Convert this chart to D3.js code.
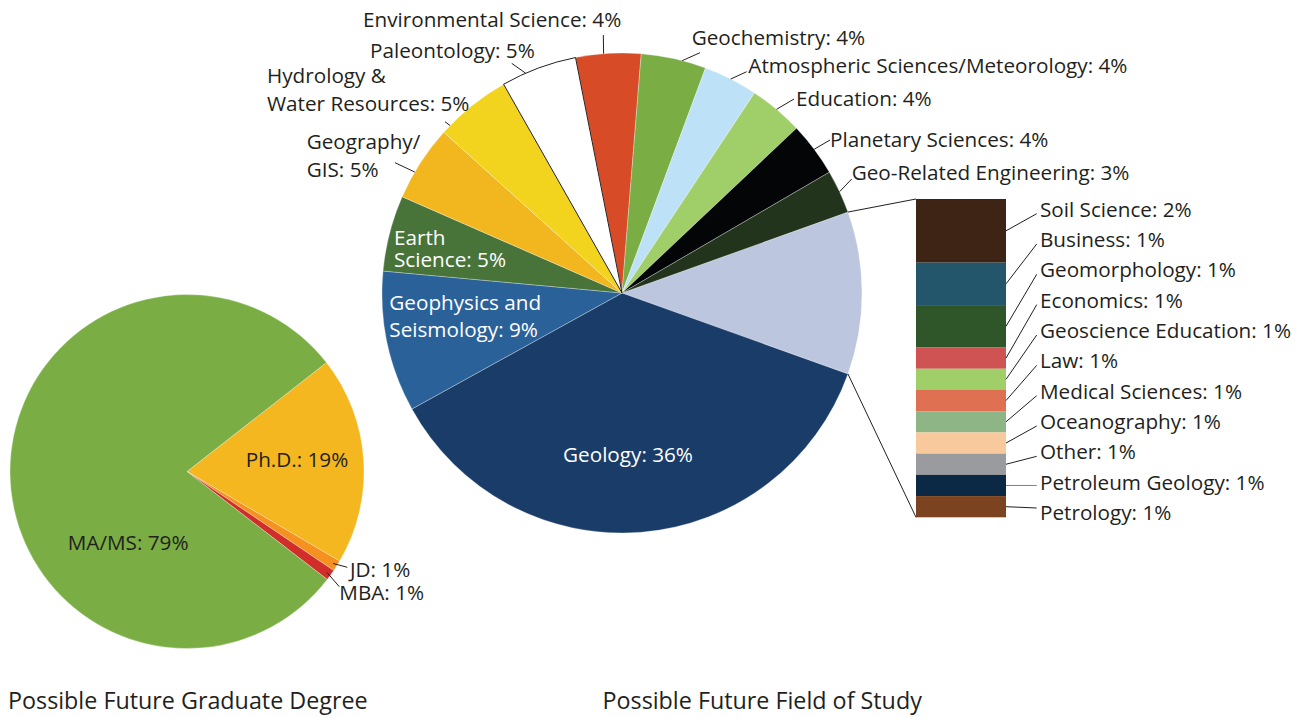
<!DOCTYPE html>
<html>
<head>
<meta charset="utf-8">
<script src="https://cdn.jsdelivr.net/npm/d3@7"></script>
<style>
  html, body { margin: 0; padding: 0; background: #fff; }
  svg { display: block; }
  text { font-family: "Open Sans", sans-serif; }
</style>
</head>
<body>
<svg id="chart" width="1311" height="717"></svg>
<script>
// ---------- data ----------
const chartTitles = ["Possible Future Graduate Degree", "Possible Future Field of Study"];

const degreeCategories = ["Ph.D.", "JD", "MBA", "MA/MS"];
const degreeShares = [19, 1, 1, 79];

// respondents per field; the small fields are grouped into the broken-out bar
const fieldCategories = [
  "Geology", "Geophysics and Seismology", "Earth Science", "Geography/GIS",
  "Hydrology & Water Resources", "Paleontology", "Environmental Science",
  "Geochemistry", "Atmospheric Sciences/Meteorology", "Education",
  "Planetary Sciences", "Geo-Related Engineering"
];
const fieldCounts = [50, 13, 7, 7, 7, 7, 6, 6, 5, 5, 5, 4];

const minorCategories = [
  "Soil Science", "Business", "Geomorphology", "Economics", "Geoscience Education",
  "Law", "Medical Sciences", "Oceanography", "Other", "Petroleum Geology", "Petrology"
];
const minorCounts = [3, 2, 2, 1, 1, 1, 1, 1, 1, 1, 1];

// ---------- styles ----------
const INK = "#231f20";
const LABEL_PX = 20.7;
const TITLE_PX = 23.3;

const degreeColors = ["#f4b71f", "#f5921f", "#d12e2a", "#7aad44"];
const groupedColor = "#bcc6de";
const fieldColors = [
  "#1a3c68", "#2b6199", "#48743a", "#f2b61f", "#f2d31e", "#ffffff",
  "#d84b27", "#7aad44", "#bde1f6", "#a0cf6a", "#040506", "#22341c"
];
const minorColors = [
  "#3e2415", "#23566b", "#2e5628", "#d05353", "#a0cf6a", "#e07052",
  "#8eb585", "#f7c99c", "#9a9b9f", "#0b2845", "#7b431f"
];

// ---------- layout ----------
const degreePie = { cx: 187, cy: 471.5, r: 177, start: 52 * Math.PI / 180 };
const fieldPie = { cx: 622, cy: 293, r: 240 };
const bar = { x: 916, width: 90, top: 199, bottom: 517.3 };

const degreeLabelLayout = {
  "Ph.D.": { x: 245.7, y: [467.3] },
  "MA/MS": { x: 67.7, y: [550] },
  "JD": { x: 350, y: [576.7], lead: [347.3, 567.3] },
  "MBA": { x: 339.3, y: [600], lead: [339.3, 586.7] }
};

const fieldLabelLayout = {
  "Geology": { x: 628, y: [461.7], anchor: "middle", fill: "#fff" },
  "Geophysics and Seismology": { x: 389.3, y: [310, 336.7], split: "Geophysics and", fill: "#fff" },
  "Earth Science": { x: 394, y: [245, 266.7], split: "Earth", fill: "#fff" },
  "Geography/GIS": { x: 306.7, y: [149, 177], split: "Geography/", lead: [395, 162.7], at: 0.36 },
  "Hydrology & Water Resources": { x: 267, y: [83, 111], split: "Hydrology &", lead: [445, 121.7], at: 0.12 },
  "Paleontology": { x: 370, y: [58], lead: [511.7, 63.3], at: 0.32 },
  "Environmental Science": { x: 363, y: [27], lead: [603.3, 35], at: 0.43 },
  "Geochemistry": { x: 691.7, y: [45], lead: [700, 52.7], at: 0.63 },
  "Atmospheric Sciences/Meteorology": { x: 748.3, y: [72.7], lead: [746.7, 71.7] },
  "Education": { x: 796, y: [106], lead: [794, 99] },
  "Planetary Sciences": { x: 830, y: [146.7], lead: [830, 140] },
  "Geo-Related Engineering": { x: 851.7, y: [180], lead: [851.7, 179] }
};

const minorLabel = { x: 1040, firstBaseline: 216.7, step: 30.33 };

// ---------- helpers ----------
const svg = d3.select("#chart");

function pointAt(pie, angle, radius) {
  return [pie.cx + radius * Math.sin(angle), pie.cy - radius * Math.cos(angle)];
}

function drawLabel(g, text, spec) {
  let lines = [text];
  if (spec.split) lines = [spec.split, text.slice(spec.split.length).trim()];
  const t = g.append("text")
    .attr("font-size", LABEL_PX)
    .attr("fill", spec.fill || INK)
    .attr("text-anchor", spec.anchor || "start");
  lines.forEach((line, i) => {
    t.append("tspan").attr("x", spec.x).attr("y", spec.y[i]).text(line);
  });
}

function leader(g, from, to, color) {
  g.append("line")
    .attr("x1", from[0]).attr("y1", from[1])
    .attr("x2", to[0]).attr("y2", to[1])
    .attr("stroke", color || INK)
    .attr("stroke-width", 1);
}

// ---------- graduate degree pie ----------
{
  const data = degreeCategories.map((name, i) => ({ name, value: degreeShares[i], color: degreeColors[i] }));
  const pie = d3.pie().sort(null).value(d => d.value)
    .startAngle(degreePie.start).endAngle(degreePie.start + 2 * Math.PI);
  const arcs = pie(data);
  const arc = d3.arc().innerRadius(0).outerRadius(degreePie.r);
  const g = svg.append("g");
  g.append("g").attr("transform", `translate(${degreePie.cx},${degreePie.cy})`)
    .selectAll("path").data(arcs).join("path")
    .attr("d", arc)
    .attr("fill", d => d.data.color)
    .attr("stroke", "#fff").attr("stroke-width", 0.3);

  const total = d3.sum(degreeShares);
  arcs.forEach(a => {
    const spec = degreeLabelLayout[a.data.name];
    const pct = Math.round(100 * a.data.value / total);
    drawLabel(g, `${a.data.name}: ${pct}%`, spec);
    if (spec.lead) {
      const mid = (a.startAngle + a.endAngle) / 2;
      leader(g, spec.lead, pointAt(degreePie, mid, degreePie.r * 0.975));
    }
  });
}

// ---------- field of study pie ----------
const groupedTotal = d3.sum(minorCounts);
const fieldTotal = d3.sum(fieldCounts) + groupedTotal;
{
  const data = [{ name: null, value: groupedTotal, color: groupedColor }]
    .concat(fieldCategories.map((name, i) => ({ name, value: fieldCounts[i], color: fieldColors[i] })));
  const groupedAngle = 2 * Math.PI * groupedTotal / fieldTotal;
  const start = Math.PI / 2 - groupedAngle / 2;
  const pie = d3.pie().sort(null).value(d => d.value)
    .startAngle(start).endAngle(start + 2 * Math.PI);
  const arcs = pie(data);
  const arc = d3.arc().innerRadius(0).outerRadius(fieldPie.r);
  const g = svg.append("g");
  const slices = g.append("g").attr("transform", `translate(${fieldPie.cx},${fieldPie.cy})`);
  slices.selectAll("path").data(arcs).join("path")
    .attr("d", arc)
    .attr("fill", d => d.data.color)
    .attr("stroke", d => d.data.color === "#ffffff" ? INK : "#fff")
    .attr("stroke-width", d => d.data.color === "#ffffff" ? 1 : 0.3);
  // keep the outlined white slice on top so its border is not covered
  slices.selectAll("path").filter(d => d.data.color === "#ffffff").raise();

  arcs.forEach(a => {
    if (!a.data.name) return;
    const spec = fieldLabelLayout[a.data.name];
    const pct = Math.round(100 * a.data.value / fieldTotal);
    drawLabel(g, `${a.data.name}: ${pct}%`, spec);
    if (spec.lead) {
      const f = spec.at === undefined ? 0.5 : spec.at;
      const ang = a.startAngle + f * (a.endAngle - a.startAngle);
      leader(g, spec.lead, pointAt(fieldPie, ang, fieldPie.r));
    }
  });

  // ---------- broken-out bar of the small fields ----------
  const grouped = arcs[0];
  const y = d3.scaleLinear().domain([0, groupedTotal]).range([bar.top, bar.bottom]);
  const ends = d3.cumsum(minorCounts);
  const segs = minorCategories.map((name, i) => ({
    name, value: minorCounts[i], color: minorColors[i],
    y0: y(ends[i] - minorCounts[i]), y1: y(ends[i])
  }));

  leader(g, pointAt(fieldPie, grouped.startAngle, fieldPie.r), [bar.x, y(0)]);
  leader(g, pointAt(fieldPie, grouped.endAngle, fieldPie.r), [bar.x, y(groupedTotal)]);

  g.append("g").selectAll("rect").data(segs).join("rect")
    .attr("x", bar.x).attr("width", bar.width)
    .attr("y", d => d.y0).attr("height", d => d.y1 - d.y0)
    .attr("fill", d => d.color);

  segs.forEach((s, i) => {
    const baseline = minorLabel.firstBaseline + i * minorLabel.step;
    const pct = Math.round(100 * s.value / fieldTotal);
    drawLabel(g, `${s.name}: ${pct}%`, { x: minorLabel.x, y: [baseline] });
    const endY = (s.y0 + s.y1) / 2;
    const startY = Math.max(baseline - 12, Math.min(baseline - 3, endY));
    const color = Math.abs(startY - endY) < 0.5 ? "#808080" : INK;
    leader(g, [minorLabel.x - 3.3, startY], [bar.x + bar.width, endY], color);
  });
}

// ---------- titles ----------
svg.append("text").attr("x", 8).attr("y", 709)
  .attr("font-size", TITLE_PX).attr("fill", INK).text(chartTitles[0]);
svg.append("text").attr("x", 602.5).attr("y", 709)
  .attr("font-size", TITLE_PX).attr("fill", INK).text(chartTitles[1]);
</script>
</body>
</html>
